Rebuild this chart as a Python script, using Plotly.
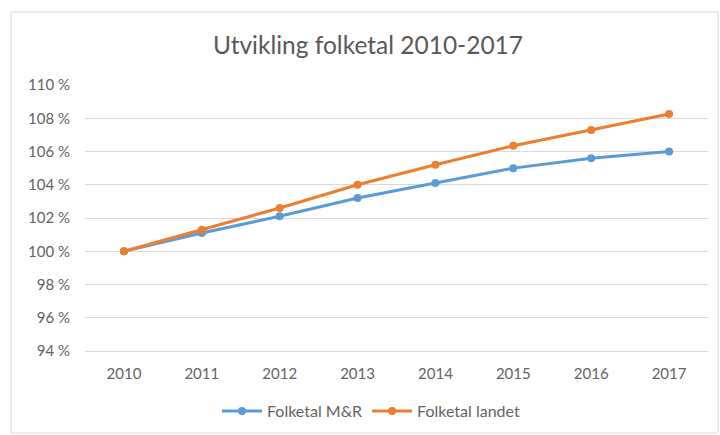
import plotly.graph_objects as go

years = ["2010", "2011", "2012", "2013", "2014", "2015", "2016", "2017"]
folketal_mr = [100.0, 101.1, 102.1, 103.2, 104.1, 105.0, 105.6, 106.0]
folketal_landet = [100.0, 101.3, 102.6, 104.0, 105.2, 106.35, 107.3, 108.25]
y_tickvals = [94, 96, 98, 100, 102, 104, 106, 108, 110]
y_ticktext = ["94 %", "96 %", "98 %", "100 %", "102 %", "104 %", "106 %", "108 %", "110 %"]

W, H = 720, 435
ml, mr, mt, mb = 85, 12, 85, 84
pw, ph = W - ml - mr, H - mt - mb

def px_x(x):
    return (x - ml) / pw

def px_y(y):
    return (H - mb - y) / ph

fig = go.Figure()
fig.add_trace(go.Scatter(
    x=years, y=folketal_mr, name="Folketal M&R", mode="lines+markers",
    line=dict(color="#5B9BD5", width=3), marker=dict(size=8, color="#5B9BD5")))
fig.add_trace(go.Scatter(
    x=years, y=folketal_landet, name="Folketal landet", mode="lines+markers",
    line=dict(color="#ED7D31", width=3), marker=dict(size=8, color="#ED7D31")))

fig.update_layout(
    width=W, height=H,
    margin=dict(l=ml, r=mr, t=mt, b=mb, autoexpand=False),
    paper_bgcolor="white", plot_bgcolor="white",
    font=dict(family="Lato", color="#636363", size=15),
    title=dict(text="Utvikling folketal 2010-2017", x=px_x(368), xref="paper",
               xanchor="center", y=1 - 45 / H, yanchor="middle",
               font=dict(size=24.5, color="#595959")),
    showlegend=True,
    legend=dict(orientation="h", xref="container", x=371 / W, xanchor="center",
                yref="container", y=1 - 411 / H, yanchor="middle",
                font=dict(size=16, color="#636363"),
                bgcolor="rgba(0,0,0,0)", itemwidth=40),
    xaxis=dict(type="category", showgrid=False, showline=True, linecolor="#d9d9d9",
               linewidth=1, ticks="", tickfont=dict(size=15, color="#636363"),
               range=[-0.5, 7.5], fixedrange=True, ticklabelstandoff=9,
               automargin=False),
    yaxis=dict(range=[94, 110], tickvals=y_tickvals, ticktext=y_ticktext,
               showgrid=True, gridcolor="#d9d9d9", gridwidth=1, zeroline=False,
               showline=False, ticks="", ticklabelstandoff=14, automargin=False,
               tickfont=dict(size=15, color="#636363")),
    shapes=[dict(type="rect", xref="paper", yref="paper",
                 x0=px_x(11), x1=px_x(718), y0=px_y(433), y1=px_y(12),
                 line=dict(color="#d9d9d9", width=1), fillcolor="rgba(0,0,0,0)",
                 layer="below")],
)

fig.write_html("out.html", config={"displayModeBar": False},
               post_script="document.body.style.margin='0';document.body.style.overflow='hidden';")
